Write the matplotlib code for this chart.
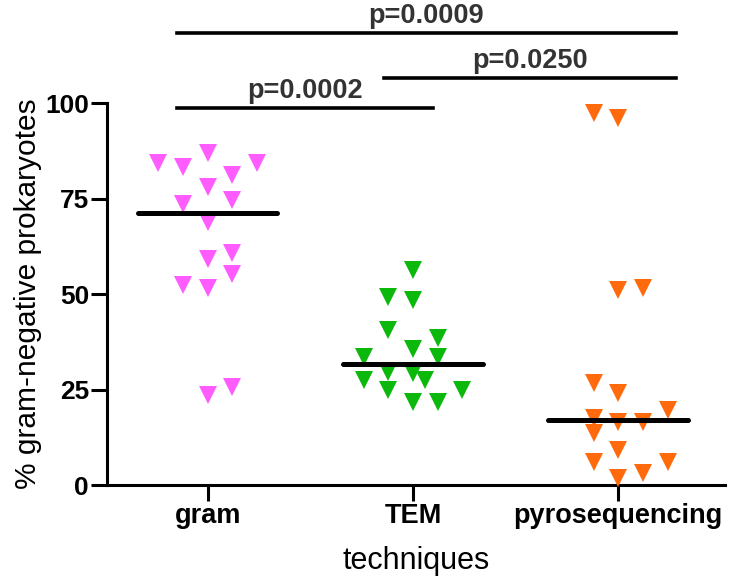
import numpy as np
import matplotlib
matplotlib.use("Agg")
import matplotlib.pyplot as plt

plt.rcParams['font.family'] = ['Liberation Sans', 'DejaVu Sans']

# data
categories = ["gram", "TEM", "pyrosequencing"]

gram = [86.8, 84.2, 83.2, 84.2, 81.2, 78.1, 73.6, 74.6, 68.9,
        60.7, 59.3, 55.2, 52.4, 51.5, 25.7, 23.6]
tem = [56.3, 49.3, 48.4, 40.6, 38.4, 35.6, 33.6, 33.6, 29.7,
       29.2, 27.5, 27.5, 24.9, 24.9, 21.8, 21.8]
pyro = [97.3, 96.0, 51.0, 51.5, 26.6, 24.0, 19.6, 17.5, 16.6,
        16.6, 13.5, 9.2, 6.1, 6.1, 3.1, 1.8]

# swarm column for each point (layout, not data)
gram_slot = [0, -2, -1, 2, 1, 0, -1, 1, 0, 1, 0, 1, -1, 0, 1, 0]
tem_slot = [0, -1, 0, -1, 1, 0, -2, 1, -1, 0, -2, 0.5, -1, 2, 0, 1]
pyro_slot = [-1, 0, 0, 1, -1, 0, 2, -1, 0, 1, -1, 0, -1, 2, 1, 0]

colors = ["#ff5cff", "#0db80d", "#ff6a0d"]

# comparisons: (left group, right group, label)
comparisons = [(0, 2, "p=0.0009"), (1, 2, "p=0.0250"), (0, 1, "p=0.0002")]
bar_heights = [118.3, 106.5, 98.7]

yticks = [0, 25, 50, 75, 100]


def main():
    fig = plt.figure(figsize=(7.5, 5.77), dpi=100)
    ax = fig.add_axes([0.1427, 0.1594, 0.824, 0.662])

    groups = [gram, tem, pyro]
    slots = [gram_slot, tem_slot, pyro_slot]
    step = 0.12
    for i, (vals, sl) in enumerate(zip(groups, slots)):
        x = i + np.array(sl) * step
        ax.plot(x, vals, linestyle="none", marker="v", markersize=12.5,
                color=colors[i], markeredgewidth=0, zorder=3, clip_on=False)
        med = np.median(vals)
        ax.plot([i - 0.34, i + 0.34], [med, med], color="black", lw=3.6,
                solid_capstyle="round", zorder=4)

    # significance bars
    ends = {0: -0.15, 1: 0.86}
    rights = {2: 2.28, 1: 1.10}
    for (a, b, lab), h in zip(comparisons, bar_heights):
        x0 = ends[a]
        x1 = rights[b]
        ax.plot([x0, x1], [h, h], color="black", lw=2.6, clip_on=False)
        ax.text((x0 + x1) / 2, h + 2.6, lab, ha="center", va="baseline",
                fontsize=19.5, fontweight="bold", color="#333333")

    ax.set_xlim(-0.49, 2.52)
    ax.set_ylim(0, 100)
    ax.set_xticks(range(len(categories)))
    ax.set_xticklabels(categories, fontsize=19.5, fontweight="bold")
    ax.set_yticks(yticks)
    ax.set_yticklabels([str(t) for t in yticks], fontsize=19, fontweight="bold")

    for s in ["top", "right"]:
        ax.spines[s].set_visible(False)
    for s in ["left", "bottom"]:
        ax.spines[s].set_linewidth(2.2)
    ax.tick_params(width=2.2, length=11.5, pad=1.5)

    ax.set_xlabel("techniques", fontsize=22, labelpad=12)
    ax.set_ylabel("% gram-negative prokaryotes", fontsize=21.5, labelpad=2)

    fig.savefig("out.png", dpi=100)


if __name__ == "__main__":
    main()
